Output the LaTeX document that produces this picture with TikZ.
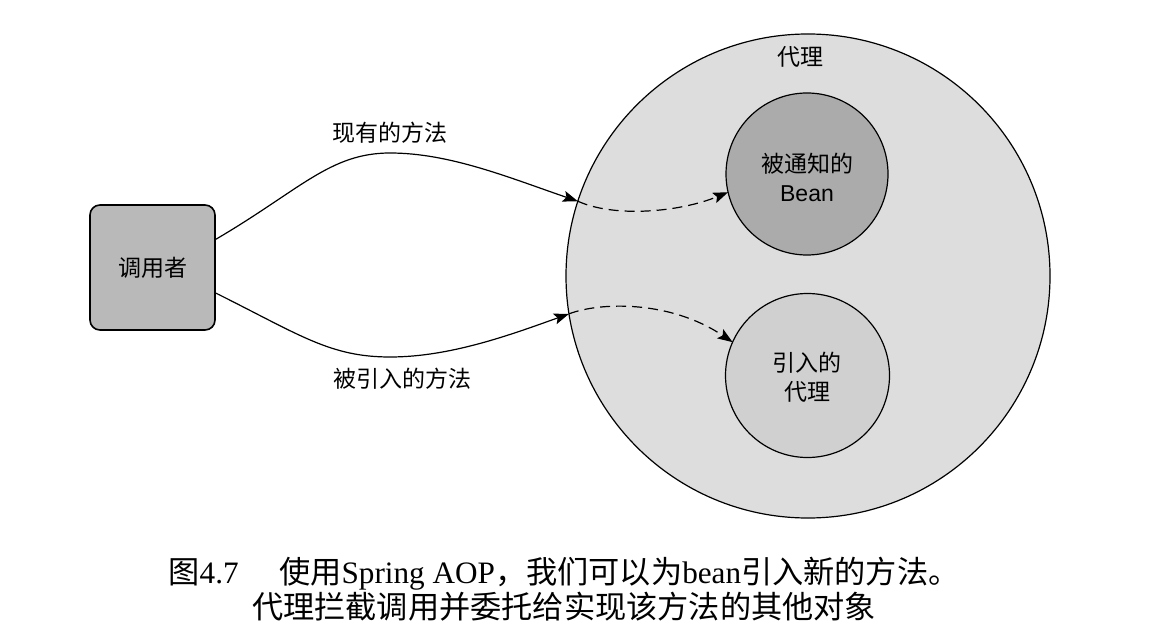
\documentclass[tikz,border=0pt]{standalone}
\usepackage{fontspec}
\setmainfont{Liberation Serif}
\newfontfamily\cjk{Noto Sans CJK SC}
\newfontfamily\lsans{Liberation Sans}
\usepackage{tikz}
\usetikzlibrary{arrows.meta}
\definecolor{proxygray}{HTML}{DDDDDD}
\definecolor{beangray}{HTML}{ABABAB}
\definecolor{introgray}{HTML}{D0D0D0}
\definecolor{callergray}{HTML}{B9B9B9}

\begin{document}
\begin{tikzpicture}[x=0.5pt, y=-0.5pt, line width=0.6pt,
    label/.style={font=\fontsize{11.5}{14.5}\selectfont\cjk, align=center},
    ball/.style={circle, draw, line width=0.6pt, inner sep=0pt, outer sep=0pt},
    call/.style={-{Stealth[length=7.5pt, width=5.5pt, inset=1.5pt]}},
    calldash/.style={call, dash pattern=on 5pt off 3pt}]

  \useasboundingbox (0,0) rectangle (1154,641);

  % -- the proxy and what lives inside it ----------------------------------
  \node[ball, fill=proxygray, minimum size=242pt] (proxy) at (808,276) {};
  \node[ball, fill=beangray, minimum size=81pt] (bean) at (807,174) {};
  \node[ball, fill=introgray, minimum size=82pt] (intro) at (807.5,375.5) {};

  \node[label] at (800,57) {代理};
  \node[label] at (807,177) {被通知的\\{\lsans Bean}};
  \node[label] at (807,377) {引入的\\代理};

  % -- the caller ----------------------------------------------------------
  \node[draw, line width=0.8pt, fill=callergray, rounded corners=5pt,
        minimum width=62.5pt, minimum height=62.5pt, label] (caller) at (152.5,267.5) {调用者};

  % -- calls: solid up to the proxy, dashed inside it ----------------------
  \coordinate (upin) at (proxy.162.7);
  \coordinate (lowin) at (proxy.189.8);

  \draw[call] (caller.24) .. controls (300,190) and (330,153) .. (390,153)
    .. controls (450,153) and (510,178) .. (upin);
  \draw[calldash] (upin) .. controls (615,218) and (680,212) .. (bean.193.6);

  \draw[call] (caller.-22) .. controls (300,335) and (330,357) .. (390,357)
    .. controls (450,357) and (510,335) .. (lowin);
  \draw[calldash] (lowin) .. controls (600,302) and (670,300) .. (intro.156);

  \node[label] at (390,133) {现有的方法};
  \node[label] at (402,379) {被引入的方法};

  % -- caption -------------------------------------------------------------
  \node[font=\fontsize{15.6}{17.5}\selectfont, align=center] (caption) at (564,589)
    {{\cjk 图}4.7\hspace{1.3em}{\cjk 使用}Spring AOP{\cjk ，我们可以为}bean{\cjk 引入新的方法。}\\
     {\cjk 代理拦截调用并委托给实现该方法的其他对象}};

\end{tikzpicture}
\end{document}
